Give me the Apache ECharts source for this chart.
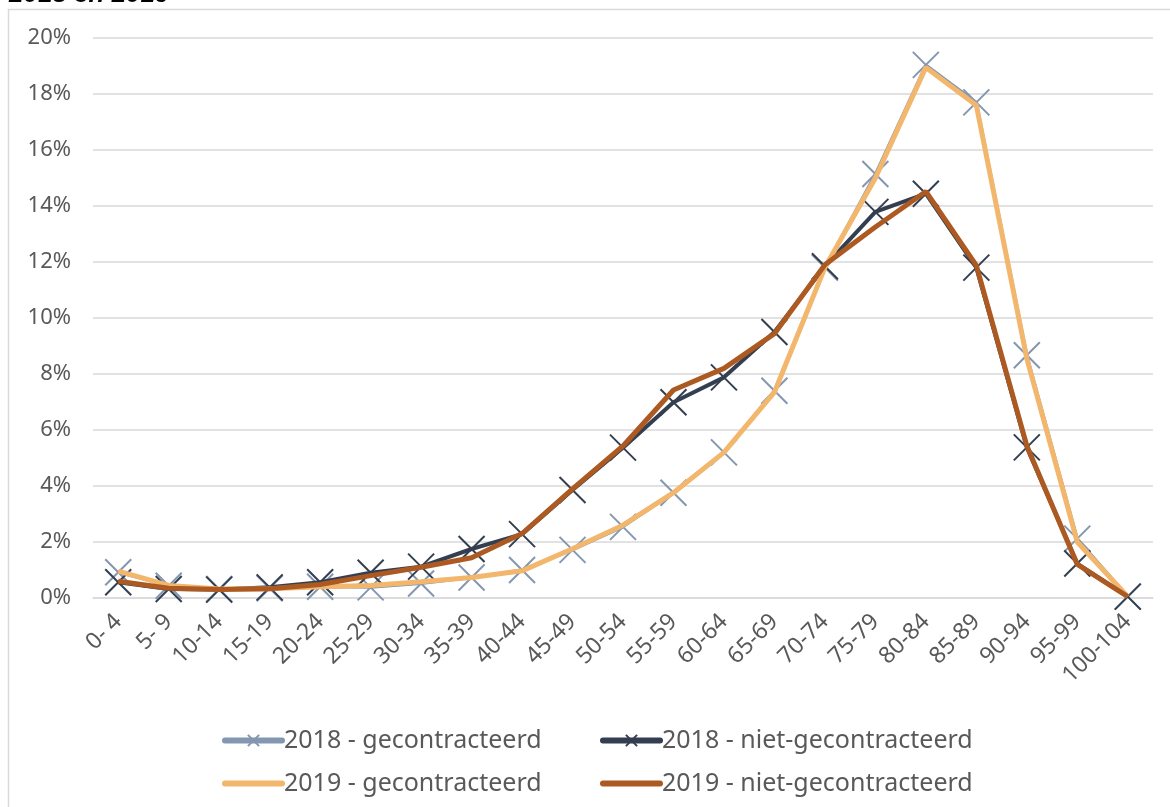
<!DOCTYPE html>
<html>
<head>
<meta charset="utf-8">
<script src="https://cdn.jsdelivr.net/npm/echarts@6/dist/echarts.min.js"></script>
<style>
html,body{margin:0;padding:0;background:#fff;}
#chart{width:1170px;height:807px;}
</style>
</head>
<body>
<div id="chart"></div>
<script>
const categories = ['0- 4','5- 9','10-14','15-19','20-24','25-29','30-34','35-39','40-44','45-49','50-54','55-59','60-64','65-69','70-74','75-79','80-84','85-89','90-94','95-99','100-104'];
const gecontracteerd2018 = [0.92,0.44,0.32,0.35,0.40,0.38,0.52,0.73,1.00,1.72,2.54,3.76,5.20,7.40,11.80,15.14,19.04,17.70,8.67,2.12,0.05];
const nietGecontracteerd2018 = [0.56,0.32,0.30,0.38,0.56,0.90,1.12,1.75,2.28,3.86,5.37,6.99,7.88,9.50,11.85,13.79,14.44,11.80,5.38,1.23,0.05];
const gecontracteerd2019 = [0.96,0.45,0.32,0.33,0.40,0.45,0.58,0.73,0.97,1.76,2.60,3.76,5.20,7.35,11.80,15.00,18.95,17.60,8.55,2.00,0.05];
const nietGecontracteerd2019 = [0.60,0.35,0.30,0.33,0.48,0.80,1.10,1.44,2.30,3.90,5.43,7.43,8.20,9.44,11.90,13.25,14.52,11.88,5.44,1.20,0.05];
const seriesNames = ['2018 - gecontracteerd','2018 - niet-gecontracteerd','2019 - gecontracteerd','2019 - niet-gecontracteerd'];
const titleText = '2018 en 2019';

const FONT = 'Noto Sans';
const TXT = '#595959';
const X_SYMBOL = 'path://M0,0L10,10M10,0L0,10';

const chart = echarts.init(document.getElementById('chart'), null, {renderer:'canvas'});

function legendAt(name, left, top, hideSymbol){
  const l = {
    data:[name], left:left, top:top, orient:'horizontal',
    itemWidth:57, itemHeight:14, itemGap:0, padding:0,
    textStyle:{fontFamily:FONT, fontSize:25, color:TXT, padding:[0,0,0,-3]},
    lineStyle:{width:6, cap:'round'}
  };
  if (hideSymbol) l.itemStyle = {opacity:0};
  return l;
}

const option = {
  animation:false,
  backgroundColor:'#ffffff',
  graphic:[
    {type:'rect', shape:{x:8.5, y:9.5, width:1200, height:900}, style:{fill:'none', stroke:'#D9D9D9', lineWidth:1.5}, silent:true, z:-10},
    {type:'text', x:9, y:-18, style:{text:titleText, font:'italic bold 26px "Liberation Sans"', fill:'#000000'}, silent:true}
  ],
  grid:{left:93, right:17, top:38, bottom:209, containLabel:false},
  xAxis:{
    type:'category', data:categories, boundaryGap:true,
    axisLine:{show:true, lineStyle:{color:'#D9D9D9', width:1.5}},
    axisTick:{show:false},
    axisLabel:{rotate:45, margin:20, fontFamily:FONT, fontSize:23, color:TXT, interval:0}
  },
  yAxis:{
    type:'value', min:0, max:20, interval:2,
    axisLine:{show:false}, axisTick:{show:false},
    splitLine:{lineStyle:{color:'#D9D9D9', width:1.5}},
    axisLabel:{formatter:'{value}%', margin:22, fontFamily:FONT, fontSize:22, color:TXT}
  },
  legend:[
    legendAt(seriesNames[0], 222, 728, false),
    legendAt(seriesNames[1], 600, 728, false),
    legendAt(seriesNames[2], 222, 771, true),
    legendAt(seriesNames[3], 600, 771, true)
  ],
  series:[
    {name:seriesNames[0], type:'line', data:gecontracteerd2018, symbol:X_SYMBOL, symbolSize:26, showAllSymbol:true,
      lineStyle:{color:'#8497B0', width:3}, itemStyle:{color:'#8497B0', borderColor:'#8497B0', borderWidth:2}, z:2},
    {name:seriesNames[1], type:'line', data:nietGecontracteerd2018, symbol:X_SYMBOL, symbolSize:26, showAllSymbol:true,
      lineStyle:{color:'#333F50', width:4}, itemStyle:{color:'#333F50', borderColor:'#333F50', borderWidth:2}, z:3},
    {name:seriesNames[2], type:'line', data:gecontracteerd2019, symbol:'none',
      lineStyle:{color:'#F2B66C', width:5}, itemStyle:{color:'#F2B66C'}, z:4},
    {name:seriesNames[3], type:'line', data:nietGecontracteerd2019, symbol:'none',
      lineStyle:{color:'#AD5A22', width:5}, itemStyle:{color:'#AD5A22'}, z:5}
  ]
};
chart.setOption(option);
</script>
</body>
</html>
